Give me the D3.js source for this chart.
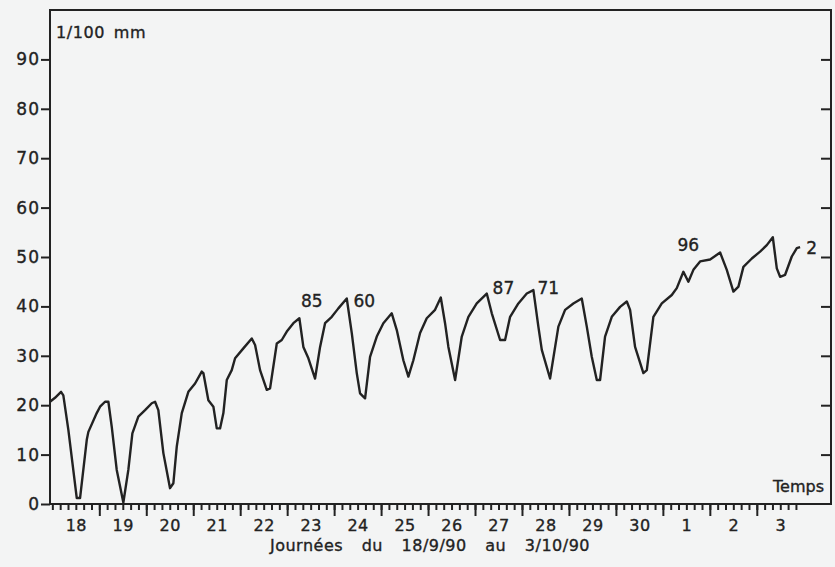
<!DOCTYPE html>
<meta charset="utf-8">
<html>
<head>
  <script src="https://d3js.org/d3.v7.min.js" charset="utf-8"></script>
  <style>
    body {
      margin: 0;
      background-color: #f3f4f4;
    }

    text {
      font-family: 'DejaVu Sans', sans-serif;
      fill: #222;
      stroke: #222;
      stroke-width: 0.35px;
    }

    .axis path {
      stroke-width: 0;
    }

    .axis line {
      stroke: #222;
      stroke-width: 2;
    }

    .axis text {
      font-size: 16px;
      fill: #222;
    }
  </style>
</head>

<body>
  <script>
    // Time in days from 18/9/90 0h, displacement in 1/100 mm
    var days = [
      -0.05, 0.057, 0.185, 0.234, 0.341, 0.520, 0.590, 0.733, 0.767, 0.945,
      1.016, 1.122, 1.193, 1.265, 1.371, 1.512, 1.618, 1.704, 1.831, 1.974,
      2.117, 2.187, 2.257, 2.364, 2.506, 2.577, 2.649, 2.756, 2.896, 3.039,
      3.181, 3.216, 3.322, 3.429, 3.501, 3.571, 3.642, 3.714, 3.820, 3.891,
      4.067, 4.246, 4.317, 4.423, 4.566, 4.636, 4.779, 4.885, 4.992, 5.132,
      5.260, 5.345, 5.452, 5.594, 5.701, 5.807, 5.950, 6.090, 6.269, 6.376,
      6.482, 6.552, 6.659, 6.765, 6.908, 7.048, 7.227, 7.334, 7.474, 7.581,
      7.687, 7.830, 7.972, 8.149, 8.271, 8.362, 8.433, 8.576, 8.718, 8.859,
      9.037, 9.250, 9.357, 9.534, 9.640, 9.747, 9.923, 10.102, 10.243, 10.349,
      10.422, 10.598, 10.775, 10.918, 11.094, 11.273, 11.380, 11.486, 11.593, 11.663,
      11.769, 11.912, 12.089, 12.232, 12.302, 12.408, 12.585, 12.658, 12.798, 12.977,
      13.190, 13.296, 13.437, 13.543, 13.650, 13.793, 14.006, 14.219, 14.361, 14.502,
      14.609, 14.715, 14.894, 15.070, 15.213, 15.341, 15.426, 15.496, 15.603, 15.745,
      15.852, 15.922
    ];

    var values = [
      20.7, 21.5, 22.7, 22.0, 15.0, 1.2, 1.2, 13.0, 14.6, 18.4,
      19.7, 20.7, 20.7, 15.6, 6.9, 0.3, 6.9, 14.3, 17.7, 19.0,
      20.4, 20.7, 19.0, 10.3, 3.2, 4.2, 11.6, 18.4, 22.7, 24.4,
      26.8, 26.5, 21.0, 19.7, 15.3, 15.3, 18.4, 25.1, 27.1, 29.5,
      31.5, 33.5, 32.2, 27.1, 23.1, 23.4, 32.5, 33.2, 34.9, 36.6,
      37.6, 31.8, 29.5, 25.4, 31.8, 36.6, 37.9, 39.6, 41.6, 34.6,
      26.5, 22.4, 21.4, 29.8, 33.9, 36.6, 38.6, 35.2, 29.1, 25.8,
      29.1, 34.6, 37.6, 39.3, 41.8, 36.6, 31.8, 25.1, 33.9, 37.9,
      40.6, 42.6, 38.6, 33.2, 33.2, 37.9, 40.6, 42.6, 43.3, 35.9,
      31.2, 25.4, 35.9, 39.3, 40.6, 41.6, 35.9, 29.8, 25.1, 25.1,
      33.9, 37.9, 39.9, 41.0, 39.3, 31.8, 26.5, 27.1, 37.9, 40.6,
      42.3, 43.7, 47.0, 45.0, 47.4, 49.1, 49.5, 50.9, 47.4, 43.0,
      44.0, 48.0, 49.7, 51.1, 52.4, 54.0, 47.7, 46.0, 46.4, 50.1,
      51.8, 52.0
    ];

    // Day labels under each day (Sept 18 .. Oct 3)
    var dayLabels = ['18', '19', '20', '21', '22', '23', '24', '25', '26', '27',
      '28', '29', '30', '1', '2', '3'];

    var yTicks = [0, 10, 20, 30, 40, 50, 60, 70, 80, 90];

    // Numbers written next to some peaks
    var noteText = ['85', '60', '87', '71', '96', '2'];
    var noteDay = [5.524, 6.644, 9.604, 10.562, 13.543, 16.17];
    var noteValue = [39.8, 39.8, 42.5, 42.5, 51.2, 50.6];

    var W = 835, H = 567;
    var m = { top: 10, right: 4, bottom: 63, left: 50 };

    var svg = d3.select('body')
      .append('svg')
      .attr('width', W)
      .attr('height', H);

    var x = d3.scaleLinear()
      .domain([-0.05, 16.58])
      .range([m.left, W - m.right]);

    var y = d3.scaleLinear()
      .domain([0, 100])
      .range([H - m.bottom, m.top]);

    // Left axis
    svg.append('g')
      .attr('class', 'axis y-left')
      .attr('transform', `translate(${m.left},0)`)
      .call(d3.axisLeft(y)
        .tickValues(yTicks)
        .tickSize(9)
        .tickPadding(1))
      .selectAll('text')
      .style('font-size', '17px')
      .style('letter-spacing', '1px');

    // Right inward ticks
    svg.append('g')
      .attr('class', 'axis y-right')
      .attr('transform', `translate(${W - m.right},0)`)
      .call(d3.axisLeft(y)
        .tickValues(yTicks.slice(1))
        .tickSize(10)
        .tickFormat(''));

    // Minor ticks every 4 hours
    var minor = d3.range(0, 16 * 6).map(i => i / 6).filter(d => d <= 15 + 5 / 6 + 0.001);
    svg.append('g')
      .attr('class', 'axis x-minor')
      .attr('transform', `translate(0,${H - m.bottom})`)
      .call(d3.axisBottom(x)
        .tickValues(minor)
        .tickSize(6)
        .tickFormat(''));

    // Major ticks at day boundaries
    svg.append('g')
      .attr('class', 'axis x-major')
      .attr('transform', `translate(0,${H - m.bottom})`)
      .call(d3.axisBottom(x)
        .tickValues(d3.range(1, 16))
        .tickSize(12)
        .tickFormat(''));

    // Day labels centred in each day
    svg.append('g')
      .attr('class', 'axis x-labels')
      .attr('transform', `translate(0,${H - m.bottom})`)
      .call(d3.axisBottom(x)
        .tickValues(dayLabels.map((d, i) => i + 0.5))
        .tickSize(0)
        .tickPadding(16)
        .tickFormat((d, i) => dayLabels[i]))
      .selectAll('text')
      .style('font-size', '16px')
      .style('letter-spacing', '0.5px');

    // The curve
    var line = d3.line()
      .x((d, i) => x(days[i]))
      .y(d => y(d));

    svg.append('path')
      .datum(values)
      .attr('d', line)
      .attr('fill', 'none')
      .attr('stroke', '#222')
      .attr('stroke-width', 2.4)
      .attr('stroke-linejoin', 'round');

    // Frame
    svg.append('rect')
      .attr('x', m.left)
      .attr('y', m.top)
      .attr('width', W - m.right - m.left)
      .attr('height', H - m.bottom - m.top)
      .attr('fill', 'none')
      .attr('stroke', '#222')
      .attr('stroke-width', 2);

    // Peak notes
    svg.selectAll('.note')
      .data(noteText)
      .enter()
      .append('text')
      .attr('class', 'note')
      .attr('x', (d, i) => x(noteDay[i]))
      .attr('y', (d, i) => y(noteValue[i]))
      .attr('text-anchor', 'middle')
      .style('font-size', '17px')
      .text(d => d);

    // Unit, time and caption
    svg.append('text')
      .attr('x', m.left + 6)
      .attr('y', 38)
      .style('font-size', '16px')
      .style('letter-spacing', '0.6px')
      .style('word-spacing', '3px')
      .text('1/100 mm');

    svg.append('text')
      .attr('x', W - m.right - 7)
      .attr('y', 492)
      .attr('text-anchor', 'end')
      .style('font-size', '16px')
      .text('Temps');

    svg.append('text')
      .attr('x', 430)
      .attr('y', 551)
      .attr('text-anchor', 'middle')
      .style('font-size', '16px')
      .style('letter-spacing', '0.5px')
      .style('word-spacing', '13px')
      .text('Journées du 18/9/90 au 3/10/90');
  </script>
</body>
</html>
